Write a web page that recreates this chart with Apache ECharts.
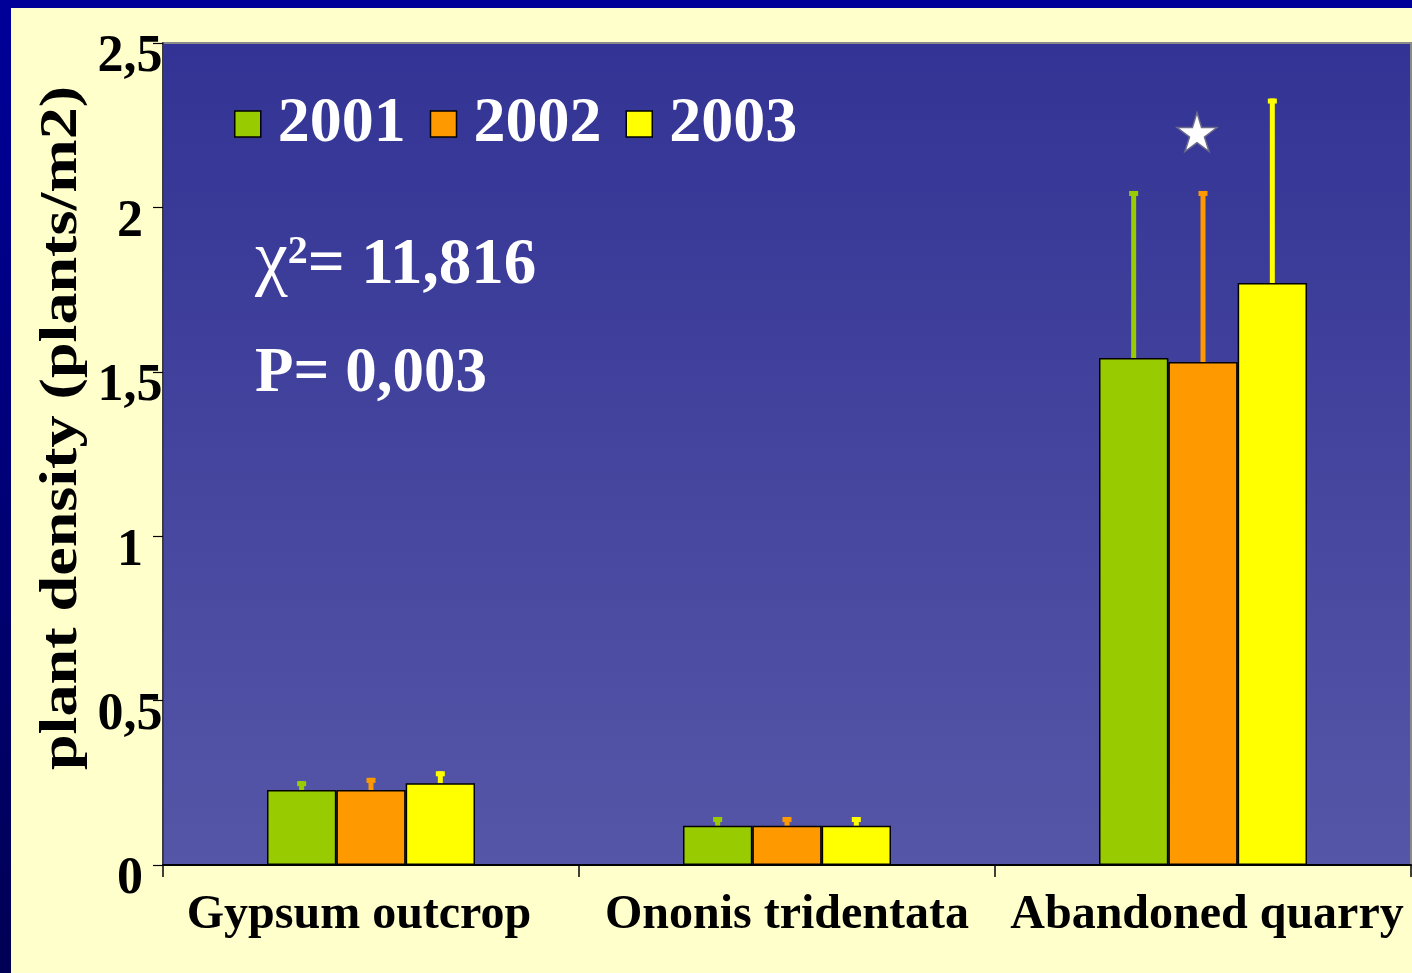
<!DOCTYPE html>
<html>
<head>
<meta charset="utf-8">
<script src="https://cdn.jsdelivr.net/npm/echarts@6/dist/echarts.min.js"></script>
<style>html,body{margin:0;padding:0;background:#ffffcc;}#c{width:1412px;height:973px;}</style>
</head>
<body>
<div id="c"></div>
<script>
const categories = ['Gypsum outcrop', 'Ononis tridentata', 'Abandoned quarry'];
const seriesNames = ['2001', '2002', '2003'];
const values2001 = [0.228, 0.119, 1.542];
const values2002 = [0.228, 0.119, 1.530];
const values2003 = [0.249, 0.119, 1.770];
const err2001 = [0.027, 0.027, 0.508];
const err2002 = [0.037, 0.027, 0.520];
const err2003 = [0.036, 0.027, 0.561];
const yTicks = [0, 0.5, 1, 1.5, 2, 2.5];
const yTickLabels = ['0', '0,5', '1', '1,5', '2', '2,5'];
const starCategory = 'Abandoned quarry';
const starValue = 2.229;
const statChi = '11,816';
const statP = '0,003';
const yAxisTitle = 'plant density (plants/m2)';

const colors = ['#99cc00', '#ff9900', '#ffff00'];
const FONT = '"Liberation Serif", "Times New Roman", serif';
const allValues = [values2001, values2002, values2003];
const allErr = [err2001, err2002, err2003];

function errRender(idx) {
  return function (params, api) {
    const ci = api.value(0), v = api.value(1), hi = api.value(2);
    const bandW = api.size([1, 0])[0];
    const barW = bandW * 0.5 / 3;
    const off = (idx - 1) * barW;
    const p0 = api.coord([ci, v]);
    const p1 = api.coord([ci, hi]);
    const x = p0[0] + off;
    const stemW = 5, capW = 9, capH = 5;
    return {
      type: 'group',
      children: [
        { type: 'rect', shape: { x: x - stemW / 2, y: p1[1], width: stemW, height: p0[1] - p1[1] }, style: { fill: colors[idx] } },
        { type: 'rect', shape: { x: x - capW / 2, y: p1[1], width: capW, height: capH }, style: { fill: colors[idx] } }
      ]
    };
  };
}

const series = [];
seriesNames.forEach((n, i) => {
  series.push({
    name: n, type: 'bar', data: allValues[i],
    barGap: '0%', barCategoryGap: '50%',
    itemStyle: { color: colors[i], borderColor: '#000', borderWidth: 1.5 },
    z: 3
  });
});
seriesNames.forEach((n, i) => {
  series.push({
    name: n + ' err', type: 'custom',
    renderItem: errRender(i),
    data: allValues[i].map((v, k) => [k, v, +(v + allErr[i][k]).toFixed(3)]),
    encode: { x: 0, y: [1, 2] },
    z: 2, silent: true
  });
});
series.push({
  name: 'star', type: 'scatter',
  data: [[starCategory, starValue]],
  symbol: 'path://M50,0 L61,35 L98,35 L68,57 L79,91 L50,70 L21,91 L32,57 L2,35 L39,35 Z',
  symbolSize: [40, 39], symbolOffset: [-6, 0],
  itemStyle: { color: '#ffffff', borderColor: '#6a6a8a', borderWidth: 1.5, opacity: 1 },
  z: 5, silent: true
});

const xLabelStyle = { color: '#000', fontSize: 48, fontWeight: 'bold', fontFamily: FONT, lineHeight: 48 };

const chart = echarts.init(document.getElementById('c'), null, { renderer: 'canvas' });
chart.setOption({
  backgroundColor: '#ffffcc',
  animation: false,
  grid: {
    left: 163, top: 43, right: 1, bottom: 108,
    show: true,
    backgroundColor: new echarts.graphic.LinearGradient(0, 0, 0, 1, [
      { offset: 0, color: '#323394' }, { offset: 1, color: '#5656a8' }
    ]),
    borderColor: '#8a8a8a', borderWidth: 2
  },
  legend: {
    data: seriesNames,
    left: 234, top: 92, padding: 0,
    itemWidth: 26, itemHeight: 26, itemGap: 24,
    icon: 'rect',
    itemStyle: { borderColor: '#000', borderWidth: 1.5 },
    textStyle: { color: '#ffffff', fontSize: 64, fontWeight: 'bold', fontFamily: FONT, lineHeight: 64, padding: [0, 0, 0, 12] },
    selectedMode: false
  },
  xAxis: {
    type: 'category', data: categories,
    axisLine: { lineStyle: { color: '#000', width: 2 } },
    axisTick: { show: true, length: 12, lineStyle: { color: '#000', width: 1.5 } },
    axisLabel: {
      margin: 27, interval: 0, hideOverlap: false,
      formatter: (v, i) => ['{a|', '{b|', '{c|'][i] + v + '}',
      rich: {
        a: Object.assign({ padding: [0, 24, 0, 0] }, xLabelStyle),
        b: Object.assign({}, xLabelStyle),
        c: Object.assign({ padding: [0, 0, 0, 8] }, xLabelStyle)
      }
    }
  },
  yAxis: {
    type: 'value', min: 0, max: 2.5, interval: 0.5,
    splitLine: { show: false },
    axisLine: { show: true, lineStyle: { color: '#222', width: 1.5 } },
    axisTick: { show: true, length: 10, lineStyle: { color: '#000', width: 1.2 } },
    axisLabel: {
      color: '#000', fontSize: 52, fontWeight: 'bold', fontFamily: FONT,
      align: 'center', verticalAlign: 'top', margin: 33, lineHeight: 30,
      formatter: v => yTickLabels[yTicks.indexOf(v)] ?? String(v).replace('.', ',')
    }
  },
  series: series,
  graphic: [
    { type: 'rect', left: 0, top: 0, shape: { width: 1412, height: 8 }, style: { fill: '#000099' }, z: 100 },
    { type: 'rect', left: 0, top: 0, shape: { width: 11, height: 973 },
      style: { fill: new echarts.graphic.LinearGradient(0, 0, 0, 1, [{ offset: 0, color: '#000099' }, { offset: 1, color: '#000055' }]) }, z: 100 },
    { type: 'text', x: 62, y: 428, rotation: Math.PI / 2, scaleX: 1.21,
      style: { text: yAxisTitle, fill: '#000', fontSize: 53, fontWeight: 'bold', fontFamily: FONT, textAlign: 'center', textVerticalAlign: 'middle' }, z: 100 },
    { type: 'text', x: 255, y: 225,
      style: {
        text: '{g|χ}{s|2}{m|= ' + statChi + '}',
        rich: {
          g: { fontSize: 74, fontFamily: FONT, fill: '#fff', color: '#fff', lineHeight: 74, verticalAlign: 'bottom' },
          s: { fontSize: 40, fontWeight: 'bold', fontFamily: FONT, fill: '#fff', color: '#fff', lineHeight: 40, padding: [0, 0, 26, 0], verticalAlign: 'bottom' },
          m: { fontSize: 65, fontWeight: 'bold', fontFamily: FONT, fill: '#fff', color: '#fff', lineHeight: 74, verticalAlign: 'bottom' }
        }
      }, z: 100 },
    { type: 'text', x: 255, y: 340,
      style: { text: 'P= ' + statP, fill: '#fff', fontSize: 63, fontWeight: 'bold', fontFamily: FONT, lineHeight: 70 }, z: 100 }
  ]
});
</script>
</body>
</html>
